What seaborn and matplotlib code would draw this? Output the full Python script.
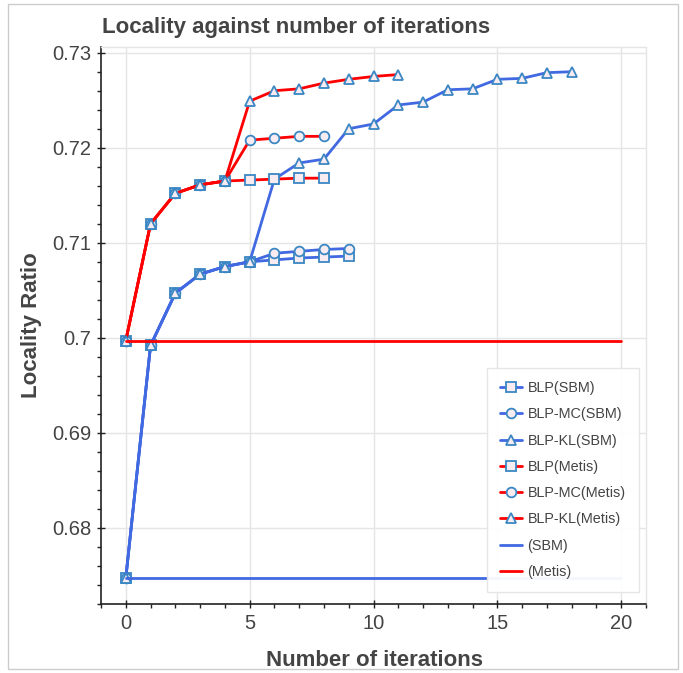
import matplotlib
matplotlib.use("Agg")
import matplotlib.pyplot as plt
from matplotlib.patches import Rectangle
from matplotlib.ticker import MultipleLocator, FuncFormatter
import seaborn as sns

# values
iters_sbm = list(range(10))
blp_sbm = [0.6747, 0.6992, 0.7047, 0.7067, 0.7075, 0.7080, 0.7082, 0.7084, 0.7085, 0.7086]
blp_mc_sbm = [0.6747, 0.6992, 0.7047, 0.7067, 0.7075, 0.7080, 0.7089, 0.7091, 0.7093, 0.7094]
iters_kl_sbm = list(range(19))
blp_kl_sbm = [0.6747, 0.6992, 0.7047, 0.7067, 0.7075, 0.7080, 0.7167, 0.7184, 0.7188, 0.7220,
              0.7225, 0.7245, 0.7248, 0.7261, 0.7262, 0.7272, 0.7273, 0.7279, 0.7280]
iters_metis = list(range(9))
blp_metis = [0.6997, 0.7120, 0.7152, 0.7161, 0.7165, 0.7166, 0.7167, 0.7168, 0.7168]
blp_mc_metis = [0.6997, 0.7120, 0.7152, 0.7161, 0.7165, 0.7208, 0.7210, 0.7212, 0.7212]
iters_kl_metis = list(range(12))
blp_kl_metis = [0.6997, 0.7120, 0.7152, 0.7161, 0.7165, 0.7249, 0.7260, 0.7262, 0.7268,
                0.7272, 0.7275, 0.7277]
base_x = [0, 20]
base_sbm = [0.6747, 0.6747]
base_metis = [0.6997, 0.6997]

BLUE = "#4169e1"
RED = "#ff0000"
EDGE = "#3a87c4"
FACE = "#f8ecf3"
TXT = "#444444"

sns.set_theme(style="white")
plt.rcParams['font.family'] = ['Liberation Sans', 'DejaVu Sans']

fig = plt.figure(figsize=(6.83, 6.73), dpi=100)
ax = fig.add_axes([101 / 683, 1 - 604 / 673, 545 / 683, 557 / 673])

series = [
    (iters_sbm, blp_sbm, BLUE, "s", "BLP(SBM)"),
    (iters_sbm, blp_mc_sbm, BLUE, "o", "BLP-MC(SBM)"),
    (iters_kl_sbm, blp_kl_sbm, BLUE, "^", "BLP-KL(SBM)"),
    (iters_metis, blp_metis, RED, "s", "BLP(Metis)"),
    (iters_metis, blp_mc_metis, RED, "o", "BLP-MC(Metis)"),
    (iters_kl_metis, blp_kl_metis, RED, "^", "BLP-KL(Metis)"),
]
for xs, ys, col, mk, lab in series:
    sns.lineplot(x=xs, y=ys, ax=ax, color=col, linewidth=2.0, marker=mk,
                 markersize=7 if mk != "^" else 7.5, markerfacecolor=FACE,
                 markeredgecolor=EDGE, markeredgewidth=1.3, label=lab)

sns.lineplot(x=base_x, y=base_sbm, ax=ax, color=BLUE, linewidth=2.0, label="(SBM)")
sns.lineplot(x=base_x, y=base_metis, ax=ax, color=RED, linewidth=2.0, label="(Metis)")

ax.set_xlim(-1, 21)
ax.set_ylim(0.6720, 0.7306)
ax.xaxis.set_major_locator(MultipleLocator(5))
ax.xaxis.set_minor_locator(MultipleLocator(1))
ax.yaxis.set_major_locator(MultipleLocator(0.01))
ax.yaxis.set_minor_locator(MultipleLocator(0.002))
ax.yaxis.set_major_formatter(FuncFormatter(lambda v, p: ("%.2f" % v).rstrip("0")))
ax.grid(True, which="major", color="#e5e5e5", linewidth=1)
ax.set_axisbelow(True)

for side in ["top", "right"]:
    ax.spines[side].set_color("#e5e5e5")
    ax.spines[side].set_linewidth(1)
for side in ["left", "bottom"]:
    ax.spines[side].set_color("#222222")
    ax.spines[side].set_linewidth(1.2)

ax.tick_params(which="major", direction="inout", length=6, width=1, color="#222222",
               labelsize=14.5, labelcolor=TXT, pad=4)
ax.tick_params(which="minor", direction="out", length=3, width=1, color="#222222")
ax.tick_params(axis="both", which="both", bottom=True, left=True, top=False, right=False)

ax.set_xlabel("")
ax.set_ylabel("")
fig.text(32 / 683, 1 - 325 / 673, "Locality Ratio", fontsize=16, rotation=90,
         fontweight="bold", color=TXT, ha="center", va="center")
fig.text(374 / 683, 1 - 660 / 673, "Number of iterations", fontsize=16,
         fontweight="bold", color=TXT, ha="center", va="center")
fig.text(102 / 683, 1 - 28 / 673, "Locality against number of iterations", fontsize=16,
         fontweight="bold", color=TXT, ha="left", va="center")

leg = ax.legend(loc="upper left", bbox_to_anchor=(487 / 683, 1 - 368 / 673),
                bbox_transform=fig.transFigure, fontsize=10.4, frameon=True,
                fancybox=False, framealpha=0.95, edgecolor="#e5e5e5",
                handlelength=1.5, handletextpad=0.4, labelspacing=0.85,
                borderpad=0.9, borderaxespad=0)
for t in leg.get_texts():
    t.set_color(TXT)

# light frame around the whole output
fig.patches.append(Rectangle((8 / 683, 1 - 669 / 673), 670 / 683, 665 / 673,
                             transform=fig.transFigure, fill=False,
                             edgecolor="#cccccc", linewidth=1))

fig.savefig("out.png", dpi=100)
